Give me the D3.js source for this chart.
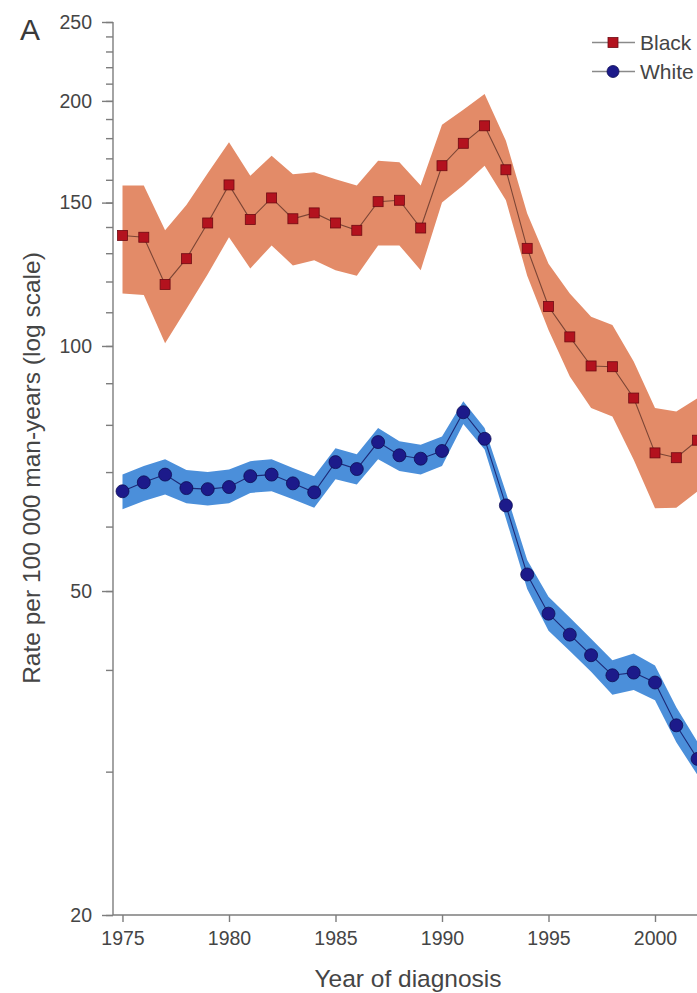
<!DOCTYPE html>
<html>
<head>
<meta charset="utf-8">
<script src="https://cdn.jsdelivr.net/npm/d3@7"></script>
<style>
  html, body { margin: 0; padding: 0; background: #fff; }
  svg { display: block; font-family: "Liberation Sans", Arial, sans-serif; }
  .tick text { fill: #454545; }
  .axis path, .axis line { stroke: #7d7d7d; stroke-width: 1.4; }
</style>
</head>
<body>
<svg id="chart" width="697" height="993"></svg>
<script>
// Year of diagnosis
const years = [1975, 1976, 1977, 1978, 1979, 1980, 1981, 1982, 1983, 1984,
               1985, 1986, 1987, 1988, 1989, 1990, 1991, 1992, 1993, 1994,
               1995, 1996, 1997, 1998, 1999, 2000, 2001, 2002];

// Black men: rate per 100 000 man-years with confidence band
const blackRate  = [136.7, 136.0, 119.0, 128.0, 141.6, 157.7, 143.0, 152.0, 143.3, 145.7,
                    141.6, 138.7, 150.4, 151.0, 139.6, 166.5, 177.4, 186.4, 164.6, 131.8,
                    111.8, 102.6, 94.5, 94.3, 86.3, 73.9, 72.9, 76.6];
const blackLower = [116.0, 115.5, 100.8, 111.0, 122.5, 136.0, 124.5, 132.9, 125.6, 127.4,
                    123.9, 122.0, 132.9, 132.9, 123.9, 150.0, 157.5, 166.5, 151.0, 122.0,
                    104.6, 91.7, 83.9, 81.9, 72.5, 63.2, 63.3, 66.3];
const blackUpper = [157.4, 157.4, 138.7, 149.0, 163.0, 177.9, 161.8, 171.2, 162.5, 163.4,
                    160.3, 157.4, 168.9, 168.1, 157.4, 187.0, 195.0, 204.0, 178.7, 145.4,
                    126.2, 116.0, 108.6, 106.1, 95.7, 83.9, 83.1, 86.3];

// White men: rate per 100 000 man-years with confidence band
const whiteRate  = [66.3, 68.0, 69.5, 66.9, 66.7, 67.1, 69.2, 69.5, 67.8, 66.1,
                    72.0, 70.6, 76.2, 73.4, 72.7, 74.3, 82.9, 76.9, 63.7, 52.4,
                    46.9, 44.2, 41.7, 39.4, 39.7, 38.6, 34.2, 31.1];
const whiteLower = [63.0, 64.5, 65.7, 64.1, 63.7, 64.1, 66.0, 66.3, 64.8, 63.3,
                    68.6, 67.6, 72.6, 70.2, 69.5, 71.2, 80.2, 74.6, 61.4, 50.3,
                    44.7, 42.2, 39.8, 37.3, 37.8, 36.7, 32.6, 29.7];
const whiteUpper = [69.5, 71.2, 72.6, 70.4, 70.0, 70.5, 72.2, 72.6, 70.8, 69.2,
                    74.9, 73.6, 79.3, 76.4, 75.6, 77.4, 85.5, 79.3, 66.1, 54.6,
                    49.2, 46.4, 43.7, 41.1, 41.9, 40.5, 36.0, 32.6];

// Axis ticks
const xTickYears  = [1975, 1980, 1985, 1990, 1995, 2000];
const yMajorTicks = [20, 50, 100, 150, 200, 250];
const yMinorTicks = [20, 30, 40, 50, 60, 70, 80, 90, 100, 110, 120, 130, 140, 150,
                     160, 170, 180, 190, 200, 210, 220, 230, 240, 250];

const seriesNames = ["Black", "White"];

const svg = d3.select("#chart");

const x = d3.scaleLinear().domain([1975, 2000]).range([122.5, 655]);
const y = d3.scaleLog().domain([20, 250]).range([915, 22]);
const axisX = 113;

const series = [
  { name: seriesNames[0], rate: blackRate, lo: blackLower, hi: blackUpper,
    band: "#e38b68", line: "#7b4535", fill: "#b3121e", stroke: "#6e0a12", shape: "square" },
  { name: seriesNames[1], rate: whiteRate, lo: whiteLower, hi: whiteUpper,
    band: "#4b8fda", line: "#1d2a78", fill: "#1c1a8a", stroke: "#0e0e55", shape: "circle" }
];

// Axes
const gy = svg.append("g").attr("class", "axis").attr("transform", `translate(${axisX},0)`);
gy.call(d3.axisLeft(y).tickValues(yMinorTicks).tickSize(7).tickFormat(""));
gy.call(g => g.select(".domain").remove());
const gyMajor = svg.append("g").attr("class", "axis").attr("transform", `translate(${axisX},0)`)
  .call(d3.axisLeft(y).tickValues(yMajorTicks).tickSize(11).tickPadding(10)
        .tickFormat(d3.format("d")));
gyMajor.select(".domain").attr("d", `M0,${y(250)}V${y(20)}`);
gyMajor.selectAll(".tick text").attr("font-size", 19.5);

const gx = svg.append("g").attr("class", "axis").attr("transform", `translate(0,${y(20)})`)
  .call(d3.axisBottom(x).tickValues(xTickYears).tickSize(7).tickPadding(9)
        .tickFormat(d3.format("d")));
gx.select(".domain").attr("d", `M${axisX},0H${x(2003)}`);
gx.selectAll(".tick text").attr("font-size", 19.5);

// Axis titles
svg.append("text")
  .attr("x", 408).attr("y", 987)
  .attr("text-anchor", "middle")
  .attr("font-size", 24.5).attr("fill", "#454545")
  .text("Year of diagnosis");

svg.append("text")
  .attr("transform", "translate(40,468) rotate(-90)")
  .attr("text-anchor", "middle")
  .attr("font-size", 24.5).attr("fill", "#454545")
  .text("Rate per 100 000 man-years (log scale)");

// Panel letter
svg.append("text")
  .attr("x", 20).attr("y", 40)
  .attr("font-size", 30).attr("fill", "#3a3a3a")
  .text("A");

// Bands, lines and markers
const plot = svg.append("g");
series.forEach(s => {
  const rows = years.map((yr, i) => ({ yr, v: s.rate[i], lo: s.lo[i], hi: s.hi[i] }));
  plot.append("path")
    .datum(rows)
    .attr("fill", s.band)
    .attr("d", d3.area().x(d => x(d.yr)).y0(d => y(d.lo)).y1(d => y(d.hi)));
  plot.append("path")
    .datum(rows)
    .attr("fill", "none")
    .attr("stroke", s.line)
    .attr("stroke-width", 1.1)
    .attr("d", d3.line().x(d => x(d.yr)).y(d => y(d.v)));
  if (s.shape === "square") {
    plot.selectAll(null).data(rows).join("rect")
      .attr("x", d => x(d.yr) - 5).attr("y", d => y(d.v) - 5)
      .attr("width", 10).attr("height", 10)
      .attr("fill", s.fill).attr("stroke", s.stroke).attr("stroke-width", 0.8);
  } else {
    plot.selectAll(null).data(rows).join("circle")
      .attr("cx", d => x(d.yr)).attr("cy", d => y(d.v)).attr("r", 6.5)
      .attr("fill", s.fill).attr("stroke", s.stroke).attr("stroke-width", 0.8);
  }
});

// Legend
const legend = svg.append("g").attr("transform", "translate(592,0)");
series.forEach((s, i) => {
  const ly = 42.5 + i * 29;
  const g = legend.append("g").attr("transform", `translate(0,${ly})`);
  g.append("line").attr("x1", 0).attr("x2", 43).attr("y1", 0).attr("y2", 0)
    .attr("stroke", "#8a8a8a").attr("stroke-width", 1.4);
  if (s.shape === "square") {
    g.append("rect").attr("x", 16).attr("y", -5).attr("width", 10).attr("height", 10)
      .attr("fill", s.fill).attr("stroke", s.stroke).attr("stroke-width", 0.8);
  } else {
    g.append("circle").attr("cx", 21).attr("cy", 0).attr("r", 6)
      .attr("fill", s.fill).attr("stroke", s.stroke).attr("stroke-width", 0.8);
  }
  g.append("text").attr("x", 48).attr("y", 7.5)
    .attr("font-size", 21).attr("fill", "#454545")
    .text(s.name);
});
</script>
</body>
</html>
